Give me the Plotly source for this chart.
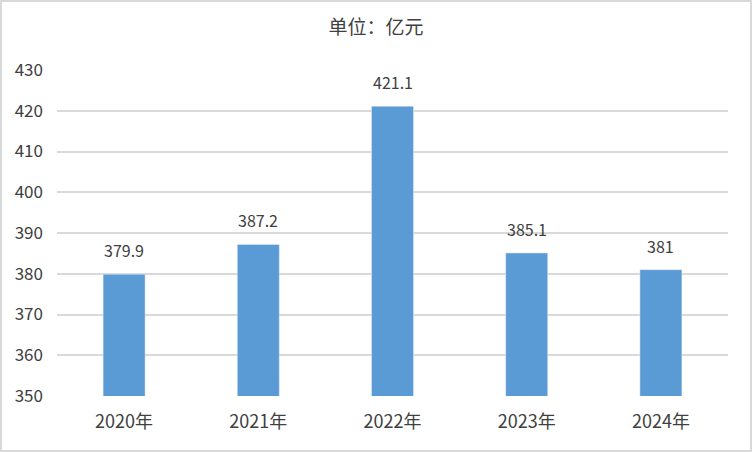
import plotly.graph_objects as go

years = ["2020年", "2021年", "2022年", "2023年", "2024年"]
values = [379.9, 387.2, 421.1, 385.1, 381]
labels = ["379.9", "387.2", "421.1", "385.1", "381"]
y_ticks = [350, 360, 370, 380, 390, 400, 410, 420, 430]

font_family = "Noto Sans CJK SC, Microsoft YaHei, sans-serif"
text_color = "#404040"

fig = go.Figure()
fig.add_trace(go.Bar(
    x=years, y=values, marker_color="#5B9BD5", width=0.313,
    hoverinfo="skip",
))

for x, v, t in zip(years, values, labels):
    fig.add_annotation(x=x, y=v, text=t, showarrow=False, yanchor="bottom",
                       yshift=10, font=dict(size=16, color=text_color, family=font_family))

W, H = 752, 452
ml, mr, mt, mb = 57, 24, 70, 56
pw, ph = W - ml - mr, H - mt - mb
fig.add_shape(type="rect", xref="paper", yref="paper",
              x0=(1 - ml) / pw, x1=(W - 1 - ml) / pw,
              y0=(H - mb - (H - 1)) / ph, y1=(H - mb - 1) / ph,
              line=dict(color="#d9d9d9", width=2), layer="below")

fig.update_layout(
    width=W, height=H,
    margin=dict(l=ml, r=mr, t=mt, b=mb),
    paper_bgcolor="white", plot_bgcolor="white",
    title=dict(text="单位：亿元", x=0.5, xref="container", xanchor="center",
               y=1 - 27 / H, yanchor="middle",
               font=dict(size=19, color=text_color, family=font_family)),
    xaxis=dict(showgrid=False, showline=False, ticks="", ticklabelstandoff=13,
               tickfont=dict(size=18, color=text_color, family=font_family)),
    yaxis=dict(range=[350, 430], tickvals=y_ticks, showgrid=True,
               gridcolor="#d9d9d9", gridwidth=2, zeroline=False, showline=False,
               ticks="", ticklabelstandoff=13,
               tickfont=dict(size=17, color=text_color, family=font_family)),
    showlegend=False,
    bargap=0.687,
)

fig.write_html("out.html", config={"displayModeBar": False},
               post_script="document.body.style.margin='0';")
